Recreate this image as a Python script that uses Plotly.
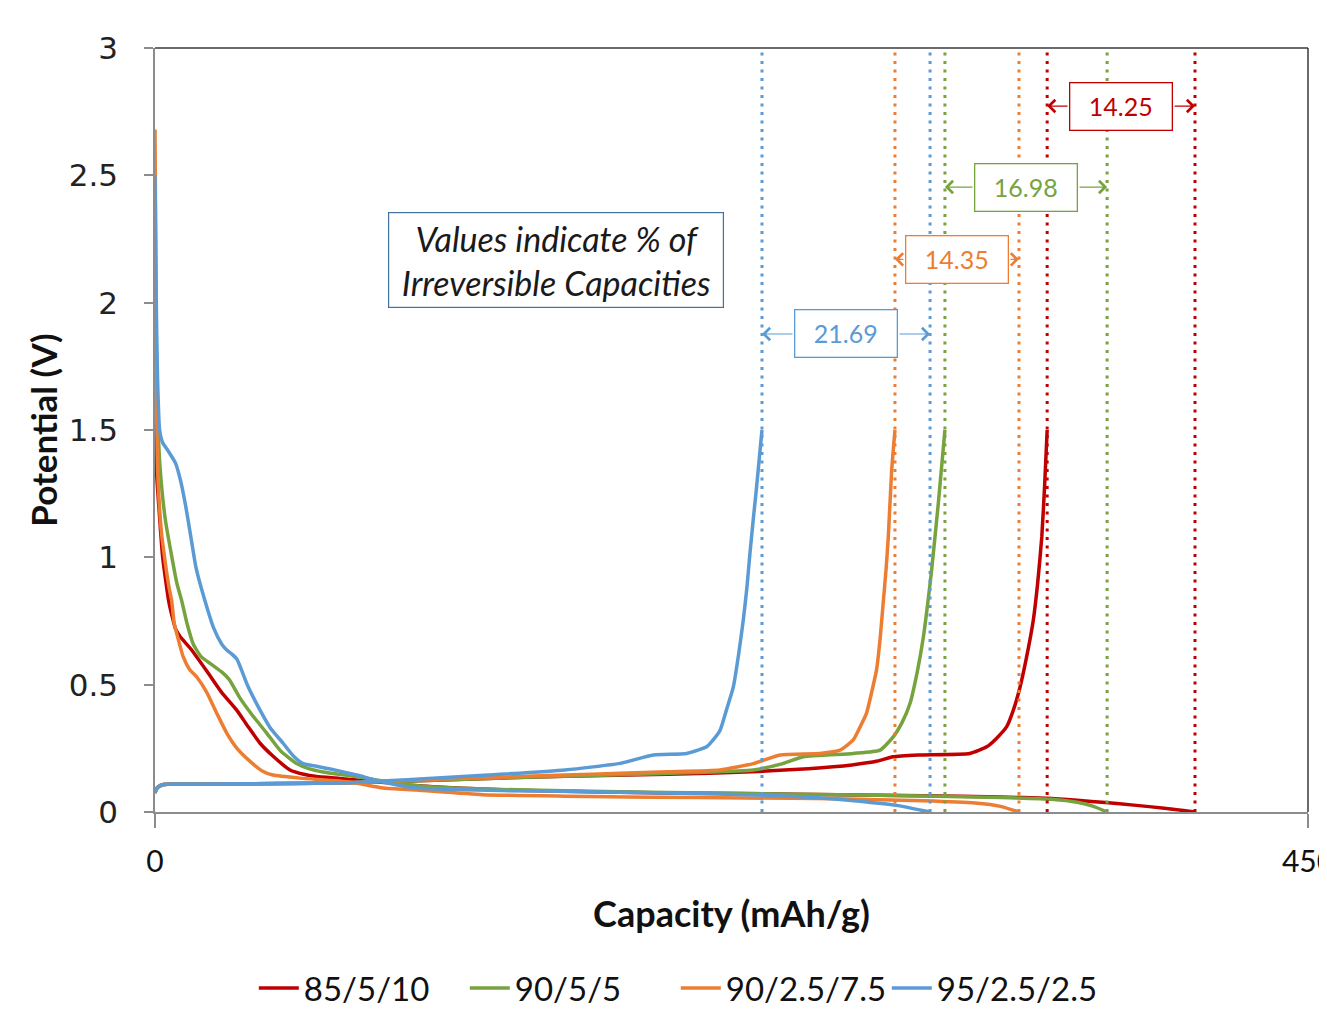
import plotly.graph_objects as go

# ---------------- data ----------------
series_names = ["85/5/10", "90/5/5", "90/2.5/7.5", "95/2.5/2.5"]
series_colors = ["#C00000", "#77A33F", "#ED7D31", "#5B9BD5"]

# discharge (lithiation) curves: capacity (mAh/g), potential (V)
red_dis_x = [0, 0.5, 1.5, 3, 5.5, 8, 9.7, 14, 20.8, 26, 31.9, 36, 41, 46, 52.7, 58, 63, 72, 85, 100, 120, 150, 200, 250, 300, 330, 348, 360, 371, 382, 394, 405.9]
red_dis_y = [1.55, 1.35, 1.2, 1.0, 0.82, 0.72, 0.69, 0.64, 0.545, 0.47, 0.40, 0.34, 0.27, 0.22, 0.165, 0.148, 0.139, 0.132, 0.12, 0.105, 0.093, 0.083, 0.075, 0.07, 0.064, 0.059, 0.054, 0.046, 0.037, 0.027, 0.015, 0.0]

green_dis_x = [0, 0.8, 2, 4, 6.6, 8.5, 10.4, 12.5, 14.9, 18, 22, 26, 29, 33, 38, 43.6, 49, 55.3, 60, 65.6, 78, 90, 100, 120, 150, 200, 250, 300, 330, 350, 360, 366, 371.6]
green_dis_y = [1.9, 1.6, 1.35, 1.15, 1.0, 0.9, 0.83, 0.74, 0.66, 0.61, 0.58, 0.55, 0.52, 0.45, 0.38, 0.31, 0.24, 0.19, 0.17, 0.157, 0.14, 0.12, 0.105, 0.093, 0.085, 0.077, 0.07, 0.063, 0.057, 0.05, 0.038, 0.023, 0.0]

orange_dis_x = [0, 0.3, 0.6, 1.2, 2.5, 4, 5.5, 6.5, 7.5, 8.5, 11, 13.5, 16.3, 20.2, 24, 28, 32, 37, 42, 46, 56.6, 76, 89, 102, 128, 160, 193, 230, 266, 300, 320, 330, 337.2]
orange_dis_y = [2.68, 2.2, 1.6, 1.3, 1.1, 0.98, 0.88, 0.83, 0.74, 0.70, 0.61, 0.56, 0.53, 0.47, 0.39, 0.31, 0.25, 0.20, 0.16, 0.145, 0.133, 0.118, 0.094, 0.086, 0.068, 0.062, 0.058, 0.055, 0.052, 0.044, 0.035, 0.022, 0.0]

blue_dis_x = [0, 0.5, 1, 1.8, 3, 5, 8, 10, 12, 14, 16, 19.5, 23, 26, 28, 30, 32, 36, 41, 45, 50, 54, 57.8, 63, 68, 78.7, 89, 102, 120, 150, 200, 240, 260, 275, 290, 302.5]
blue_dis_y = [2.5, 2.0, 1.7, 1.5, 1.45, 1.42, 1.37, 1.3, 1.2, 1.08, 0.96, 0.83, 0.72, 0.66, 0.636, 0.62, 0.60, 0.50, 0.40, 0.33, 0.27, 0.22, 0.19, 0.18, 0.17, 0.145, 0.118, 0.094, 0.087, 0.082, 0.075, 0.065, 0.055, 0.042, 0.025, 0.0]

# charge (delithiation) curves
red_chg_x = [0, 0.5, 1.5, 3, 6, 20, 50, 75, 100, 130, 160, 200, 233, 255, 272, 282, 288, 298, 318, 324.6, 328.5, 332.4, 335, 337.6, 340, 342.8, 344.5, 346.1, 347.2, 348.2]
red_chg_y = [0.075, 0.09, 0.1, 0.107, 0.11, 0.11, 0.112, 0.115, 0.122, 0.132, 0.14, 0.148, 0.158, 0.17, 0.185, 0.2, 0.217, 0.224, 0.23, 0.256, 0.29, 0.335, 0.4, 0.49, 0.6, 0.754, 0.9, 1.08, 1.28, 1.5]

green_chg_x = [0, 0.5, 1.5, 3, 6, 20, 50, 75, 100, 130, 160, 181.5, 210, 233.5, 245, 253, 272.5, 283, 288.2, 291.5, 294.7, 297.5, 299.9, 301.6, 303.1, 305.7, 308.3]
green_chg_y = [0.075, 0.09, 0.1, 0.107, 0.11, 0.11, 0.112, 0.115, 0.122, 0.132, 0.14, 0.146, 0.155, 0.165, 0.19, 0.217, 0.23, 0.243, 0.296, 0.35, 0.427, 0.55, 0.688, 0.82, 0.95, 1.21, 1.5]

orange_chg_x = [0, 0.5, 1.5, 3, 6, 20, 50, 75, 100, 130, 160, 181.5, 200, 220.5, 233.5, 244, 259.5, 267.4, 272.5, 275, 277.7, 279.7, 281.6, 283, 284.2, 285.3, 286.2, 287.5, 288.8]
orange_chg_y = [0.075, 0.09, 0.1, 0.107, 0.11, 0.11, 0.112, 0.115, 0.125, 0.135, 0.145, 0.152, 0.158, 0.165, 0.19, 0.224, 0.23, 0.243, 0.283, 0.33, 0.388, 0.47, 0.558, 0.68, 0.82, 0.95, 1.08, 1.34, 1.5]

blue_chg_x = [0, 0.5, 1.5, 3, 6, 20, 50, 75, 100, 130, 160, 181.5, 194.5, 207.5, 215.3, 218, 220.5, 223, 225.7, 227.8, 229.6, 231, 232.2, 233.5, 234.8, 236.9]
blue_chg_y = [0.075, 0.09, 0.1, 0.107, 0.11, 0.11, 0.112, 0.115, 0.128, 0.145, 0.165, 0.191, 0.224, 0.23, 0.256, 0.285, 0.32, 0.4, 0.49, 0.62, 0.754, 0.88, 1.016, 1.15, 1.277, 1.5]

# capacities (mAh/g) marked by dotted lines
charge_caps = [348.2, 308.3, 288.8, 236.9]
discharge_caps = [405.9, 371.6, 337.2, 302.5]
irrev_labels = ["14.25", "16.98", "14.35", "21.69"]

x_tickvals = [0, 450]
x_ticktext = ["0", "450"]
y_tickvals = [0, 0.5, 1, 1.5, 2, 2.5, 3]
y_ticktext = ["0", "0.5", "1", "1.5", "2", "2.5", "3"]

dis_x = [red_dis_x, green_dis_x, orange_dis_x, blue_dis_x]
dis_y = [red_dis_y, green_dis_y, orange_dis_y, blue_dis_y]
chg_x = [red_chg_x, green_chg_x, orange_chg_x, blue_chg_x]
chg_y = [red_chg_y, green_chg_y, orange_chg_y, blue_chg_y]

# ---------------- figure ----------------
FONT = "Lato"
fig = go.Figure()

for name, col, dx, dy, cx, cy in zip(series_names, series_colors, dis_x, dis_y, chg_x, chg_y):
    fig.add_trace(go.Scatter(
        x=dx + [None] + cx, y=dy + [None] + cy, name=name, mode="lines",
        line=dict(color=col, width=3.5, shape="spline", smoothing=0.5),
        connectgaps=False,
    ))

for col, c, d in zip(series_colors, charge_caps, discharge_caps):
    for cap in (c, d):
        fig.add_trace(go.Scatter(
            x=[cap, cap], y=[0, 3], mode="lines", showlegend=False, hoverinfo="skip",
            line=dict(color=col, width=3, dash="3px,5.5px"),
        ))

# irreversible-capacity labels with double arrows
label_y = [2.772, 2.454, 2.17, 1.877]
half_box = 20.3  # half box width in data units
annotations = []
for col, c, d, lab, ly in zip(series_colors, charge_caps, discharge_caps, irrev_labels, label_y):
    mid = (c + d) / 2
    for tip, tail in ((c, mid - half_box), (d, mid + half_box)):
        annotations.append(dict(
            x=tip, y=ly, ax=tail, ay=ly, xref="x", yref="y", axref="x", ayref="y",
            text="", showarrow=True, arrowhead=4, arrowsize=2.0, arrowwidth=1.2,
            arrowcolor=col, standoff=0, startstandoff=0,
        ))
    annotations.append(dict(
        x=mid, y=ly, xref="x", yref="y", text=lab, showarrow=False,
        font=dict(family=FONT, size=25, color=col),
        bordercolor=col, borderwidth=1.3, borderpad=2, bgcolor="white",
        width=97, height=42,
    ))

annotations.append(dict(
    x=156.5, y=2.168, xref="x", yref="y", showarrow=False,
    text="<i>Values indicate % of</i><br><i>Irreversible Capacities</i>",
    font=dict(family=FONT, size=34, color="#1a1a1a"),
    bordercolor="#41719C", borderwidth=1.2, borderpad=3, bgcolor="white",
    width=328, height=88,
))

fig.update_layout(
    width=1319, height=1004,
    margin=dict(l=147, r=19, t=40, b=200, autoexpand=False),
    paper_bgcolor="white", plot_bgcolor="white",
    font=dict(family=FONT, color="#222222"),
    showlegend=True,
    legend=dict(
        orientation="h", x=0.0857, xanchor="left", y=-0.2304, yanchor="middle",
        font=dict(family=FONT, size=33, color="#111111"),
        itemwidth=40, entrywidth=156, entrywidthmode="pixels",
    ),
    annotations=annotations,
    shapes=[
        dict(type="line", xref="paper", yref="paper", x0=0, x1=1, y0=1, y1=1,
             line=dict(color="#3a3a3a", width=1.5)),
        dict(type="line", xref="paper", yref="paper", x0=1, x1=1, y0=0, y1=1,
             line=dict(color="#3a3a3a", width=1.5)),
    ],
)

fig.update_xaxes(
    range=[0, 450], tickvals=x_tickvals, ticktext=x_ticktext,
    showgrid=False, zeroline=False,
    showline=True, linecolor="#8c8c8c", linewidth=1.5, mirror=False,
    ticks="outside", ticklen=14, tickcolor="#8c8c8c", tickwidth=1.5,
    tickfont=dict(family=FONT, size=30, color="#111111"),
    ticklabelstandoff=8, ticklabeloverflow="allow",
    title=dict(text="<b>Capacity (mAh/g)</b>", font=dict(family=FONT, size=36, color="#111111"), standoff=25),
)
fig.update_yaxes(
    range=[0, 3], tickvals=y_tickvals, ticktext=y_ticktext,
    showgrid=False, zeroline=False,
    showline=True, linecolor="#8c8c8c", linewidth=1.5, mirror=False,
    ticks="outside", ticklen=9, tickcolor="#8c8c8c", tickwidth=1.5,
    tickfont=dict(family="DejaVu Sans", size=31, color="#222222"),
    ticklabelstandoff=20,
    title=dict(text="<b>Potential (V)</b>", font=dict(family=FONT, size=35, color="#111111"), standoff=0),
)

fig.write_html("out.html")
